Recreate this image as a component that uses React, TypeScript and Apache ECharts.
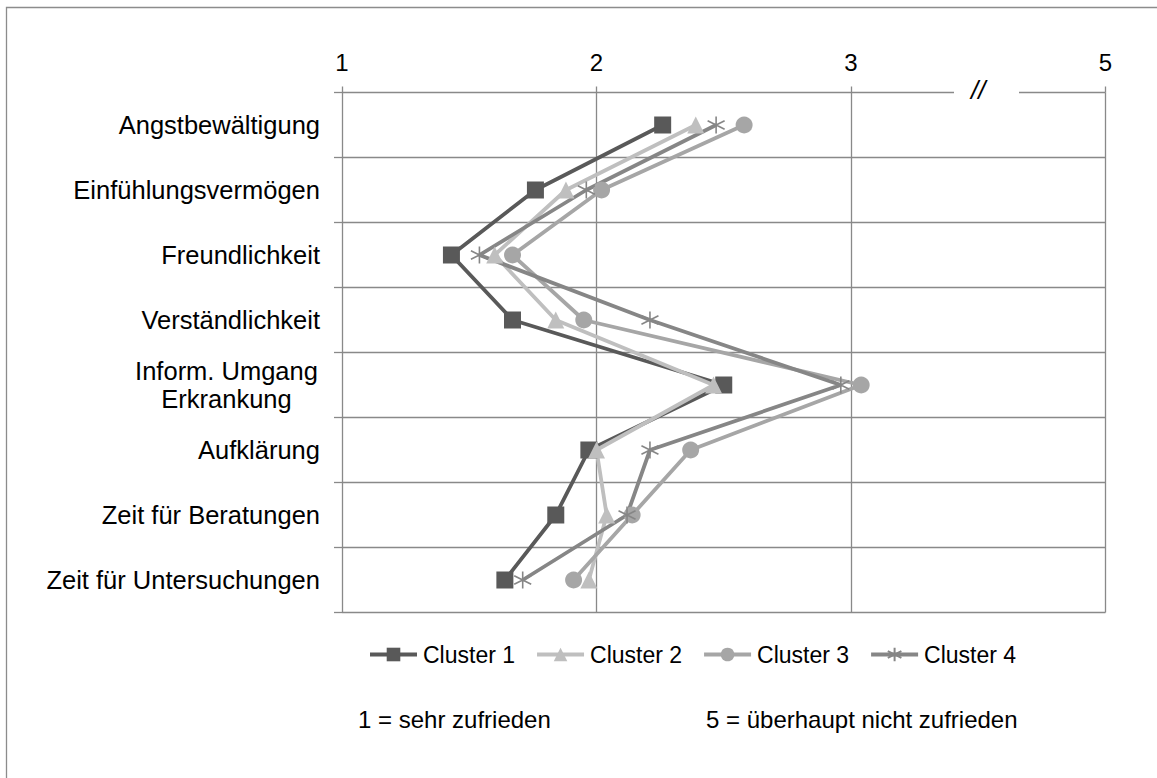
import React, { useEffect, useRef } from "react";
import * as echarts from "echarts";

const categories = [
  "Angstbewältigung",
  "Einfühlungsvermögen",
  "Freundlichkeit",
  "Verständlichkeit",
  "Inform. Umgang\nErkrankung",
  "Aufklärung",
  "Zeit für Beratungen",
  "Zeit für Untersuchungen",
];

const seriesNames = ["Cluster 1", "Cluster 2", "Cluster 3", "Cluster 4"];
const cluster1 = [2.26, 1.76, 1.43, 1.67, 2.5, 1.97, 1.84, 1.64];
const cluster2 = [2.39, 1.88, 1.6, 1.84, 2.46, 2.0, 2.04, 1.97];
const cluster3 = [2.58, 2.02, 1.67, 1.95, 3.04, 2.37, 2.14, 1.91];
const cluster4 = [2.47, 1.96, 1.54, 2.21, 2.96, 2.21, 2.12, 1.71];

const xTickLabels: Record<number, string> = { 1: "1", 2: "2", 3: "3", 4: "5" };
const noteLeft = "1 = sehr zufrieden";
const noteRight = "5 = überhaupt nicht zufrieden";

const FONT = "'Liberation Sans', Arial, sans-serif";
const GRID = "#898989";
const ASTERISK =
  "path://M10,0L10,20M1.34,5L18.66,15M1.34,15L18.66,5";

export default function App() {
  const ref = useRef<HTMLDivElement>(null);
  useEffect(() => {
    if (!ref.current) return;
    const chart = echarts.init(ref.current, undefined, { renderer: "svg" });
    const mk = (
      name: string,
      data: number[],
      color: string,
      symbol: string,
      size: number,
      border = 0
    ) => ({
      name,
      type: "line",
      data,
      symbol,
      symbolSize: size,
      itemStyle: {
        color,
        borderColor: color,
        borderWidth: border,
      },
      lineStyle: { color, width: 3.8 },
    });
    chart.setOption({
      animation: false,
      textStyle: { fontFamily: FONT },
      grid: { left: 342, top: 92.5, width: 763.5, height: 520 },
      xAxis: {
        type: "value",
        position: "top",
        min: 1,
        max: 4,
        interval: 1,
        axisLine: { show: false },
        axisTick: { show: true, length: 6, lineStyle: { color: GRID, width: 1.3 } },
        axisLabel: {
          color: "#000",
          fontSize: 24,
          fontFamily: FONT,
          margin: 18,
          formatter: (v: number) => xTickLabels[v] ?? "",
        },
        splitLine: { show: true, lineStyle: { color: GRID, width: 1.3 } },
      },
      yAxis: {
        type: "category",
        inverse: true,
        data: categories,
        boundaryGap: true,
        axisLine: { show: false },
        axisTick: { show: true, length: 8, lineStyle: { color: GRID, width: 1.3 } },
        splitLine: { show: true, lineStyle: { color: GRID, width: 1.3 } },
        axisLabel: {
          color: "#000",
          fontSize: 25.5,
          fontFamily: FONT,
          margin: 22,
          formatter: (v: string) =>
            v.indexOf("\n") >= 0
              ? v
                  .split("\n")
                  .map((s) => "{c|" + s + "}")
                  .join("\n")
              : v,
          rich: {
            c: {
              width: 187,
              align: "center",
              fontSize: 25.5,
              lineHeight: 28,
              color: "#000",
              fontFamily: FONT,
            },
          },
        },
      },
      legend: {
        left: 363,
        top: 638,
        itemWidth: 47,
        itemHeight: 17,
        itemGap: 20,
        lineStyle: { width: 4 },
        textStyle: { fontSize: 23, color: "#000", fontFamily: FONT, padding: [0, 0, 0, 1] },
        data: seriesNames,
      },
      graphic: [
        {
          type: "rect",
          silent: true,
          shape: { x: 6.5, y: 7.5, width: 1400, height: 1000 },
          style: { fill: "none", stroke: "#8c8c8c", lineWidth: 1.3 },
          z: 1,
        },
        {
          type: "rect",
          silent: true,
          shape: { x: 954, y: 86, width: 65, height: 12 },
          style: { fill: "#fff" },
          z: 100,
        },
        {
          type: "text",
          silent: true,
          left: 971,
          top: 77,
          style: {
            text: "//",
            fontSize: 26,
            fontStyle: "italic",
            fontFamily: FONT,
            fill: "#000",
          },
          z: 101,
        },
        {
          type: "text",
          silent: true,
          left: 358,
          top: 707,
          style: { text: noteLeft, fontSize: 24, fontFamily: FONT, fill: "#000" },
        },
        {
          type: "text",
          silent: true,
          left: 706,
          top: 707,
          style: { text: noteRight, fontSize: 24, fontFamily: FONT, fill: "#000" },
        },
      ],
      series: [
        mk(seriesNames[0], cluster1, "#595959", "rect", 17),
        mk(seriesNames[1], cluster2, "#bfbfbf", "triangle", 17),
        mk(seriesNames[2], cluster3, "#a6a6a6", "circle", 17),
        mk(seriesNames[3], cluster4, "#868686", ASTERISK, 17, 1.6),
      ],
    });
    return () => chart.dispose();
  }, []);
  return (
    <div
      ref={ref}
      style={{ position: "fixed", left: 0, top: 0, width: 1157, height: 778, background: "#fff" }}
    />
  );
}
